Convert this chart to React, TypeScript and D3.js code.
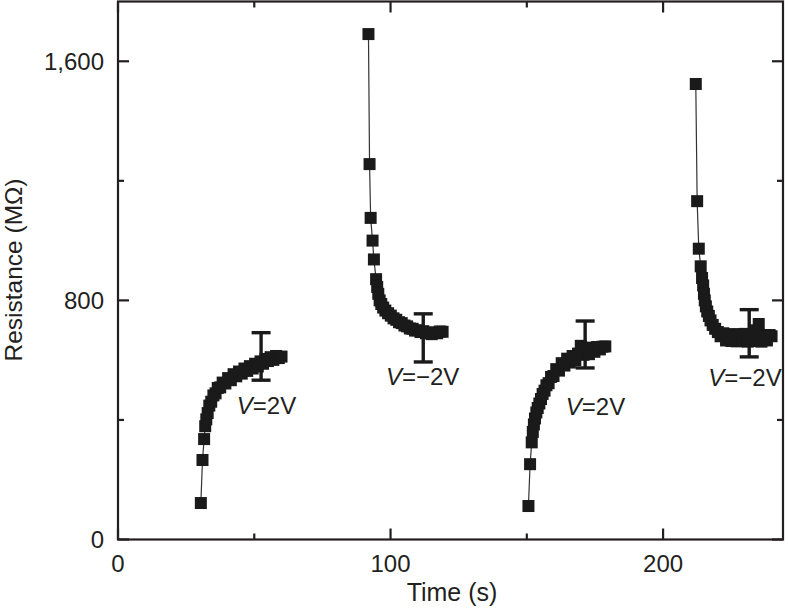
import React from "react";
import * as d3 from "d3";

// ---- data ----
const time1 = [30.4, 31.0, 31.6, 32.0, 32.4, 32.9, 33.5, 34.2, 35.0, 35.8, 36.6, 37.5, 38.4, 39.4, 40.4, 41.4, 42.4, 43.4, 44.4, 45.4, 46.4, 47.4, 48.4, 49.4, 50.3, 51.3, 52.3, 53.2, 54.1, 55.0, 56.0, 57.0, 58.0, 59.0, 60.0];
const res1 = [122, 266, 336, 379, 402, 423, 448, 461, 482, 489, 507, 509, 525, 522, 540, 533, 553, 546, 562, 555, 572, 564, 580, 572, 588, 579, 596, 588, 604, 597, 610, 601, 614, 607, 612];

const time2 = [91.9, 92.3, 92.7, 93.4, 93.9, 94.7, 95.1, 95.5, 96.0, 96.6, 97.3, 98.1, 99.1, 100.1, 101.1, 102.1, 103.1, 104.1, 105.1, 106.1, 107.1, 108.1, 109.0, 110.0, 111.0, 112.0, 113.0, 114.0, 115.1, 116.1, 117.1, 118.1, 119.1];
const res2 = [1691, 1256, 1076, 1000, 937, 871, 845, 822, 800, 788, 776, 766, 757, 749, 740, 735, 727, 724, 716, 713, 706, 705, 699, 700, 694, 697, 690, 693, 687, 692, 690, 696, 695];

const time3 = [150.6, 151.2, 151.8, 152.2, 152.6, 153.0, 153.5, 154.0, 154.6, 155.2, 155.8, 156.5, 157.2, 158.0, 158.9, 159.8, 160.8, 161.8, 162.8, 163.8, 164.8, 165.8, 166.8, 167.8, 168.8, 169.8, 170.8, 171.8, 172.8, 173.8, 174.8, 175.8, 176.8, 177.8, 178.8];
const res3 = [112, 252, 325, 360, 385, 405, 425, 440, 455, 470, 487, 498, 516, 523, 544, 547, 570, 565, 590, 582, 605, 592, 614, 600, 622, 648, 618, 642, 620, 640, 628, 644, 636, 645, 646];

const time4 = [212.0, 212.5, 213.1, 213.8, 214.3, 214.7, 215.0, 215.3, 215.7, 216.2, 216.8, 217.4, 218.2, 219.1, 220.1, 221.1, 222.1, 223.1, 224.1, 225.1, 226.1, 227.1, 228.1, 229.1, 230.1, 231.1, 232.1, 233.1, 234.1, 235.1, 236.1, 237.1, 238.1, 239.1, 239.8];
const res4 = [1524, 1132, 973, 914, 875, 850, 822, 800, 780, 763, 748, 733, 718, 705, 694, 680, 690, 666, 686, 664, 687, 663, 686, 664, 688, 662, 686, 664, 700, 721, 662, 684, 666, 684, 680];

const errTime = [52.5, 112, 171.4, 231.6];
const errLow = [533, 594, 574, 611];
const errHigh = [692, 755, 731, 769];

const labelTime = [43.6, 98.3, 164.3, 216.6];
const labelRes = [420, 517, 416, 513];
const labelText = ["=2V", "=\u22122V", "=2V", "=\u22122V"];

const xMajorTicks = [0, 100, 200];
const xMinorTicks = [50, 150];
const yMajorTicks = [0, 800, 1600];
const yMinorTicks = [400, 1200];

const xTitle = "Time (s)";
const yTitle = "Resistance (M\u03A9)";

// ---- layout ----
const W = 788;
const H = 611;
const left = 118;
const right = 783;
const top = 1.5;
const bottom = 539.5;
const FONT = "'Liberation Sans', Arial, Helvetica, sans-serif";
const INK = "#231f20";

export default function App() {
  const x = d3.scaleLinear().domain([0, 244]).range([left, right]);
  const y = d3.scaleLinear().domain([0, 1800]).range([bottom, top]);
  const line = d3
    .line<[number, number]>()
    .x((d) => x(d[0]))
    .y((d) => y(d[1]));

  const segments: [number, number][][] = [
    time1.map((t, i) => [t, res1[i]] as [number, number]),
    time2.map((t, i) => [t, res2[i]] as [number, number]),
    time3.map((t, i) => [t, res3[i]] as [number, number]),
    time4.map((t, i) => [t, res4[i]] as [number, number]),
  ];
  const ms = 12;
  const major = 11;
  const minor = 6;
  const fmt = d3.format(",");

  return (
    <svg
      width={W}
      height={H}
      style={{ position: "absolute", left: 0, top: 0, background: "#fff" }}
      fontFamily={FONT}
    >
      <rect x={0} y={0} width={W} height={H} fill="#fff" />
      {/* connecting lines */}
      {segments.map((s, i) => (
        <path key={"l" + i} d={line(s) || ""} fill="none" stroke="#333" strokeWidth={1.2} />
      ))}
      {/* markers */}
      {segments.map((s, i) =>
        s.map((d, j) => (
          <rect
            key={"m" + i + "-" + j}
            x={x(d[0]) - ms / 2}
            y={y(d[1]) - ms / 2}
            width={ms}
            height={ms}
            fill="#1a1a1a"
          />
        ))
      )}
      {/* error bars */}
      {errTime.map((t, i) => (
        <g key={"e" + i} stroke="#1a1a1a" strokeWidth={3.4}>
          <line x1={x(t)} x2={x(t)} y1={y(errLow[i])} y2={y(errHigh[i])} />
          <line x1={x(t) - 9.5} x2={x(t) + 9.5} y1={y(errLow[i])} y2={y(errLow[i])} />
          <line x1={x(t) - 9.5} x2={x(t) + 9.5} y1={y(errHigh[i])} y2={y(errHigh[i])} />
        </g>
      ))}
      {/* annotations */}
      {labelTime.map((t, i) => (
        <text key={"a" + i} x={x(t)} y={y(labelRes[i])} fontSize={24} fill={INK}>
          <tspan fontStyle="italic">V</tspan>
          <tspan>{labelText[i]}</tspan>
        </text>
      ))}
      {/* frame */}
      <rect
        x={left}
        y={top}
        width={right - left}
        height={bottom - top}
        fill="none"
        stroke={INK}
        strokeWidth={2.2}
      />
      {/* x ticks */}
      {xMajorTicks.map((t) => (
        <g key={"xt" + t} stroke={INK} strokeWidth={2.2}>
          <line x1={x(t)} x2={x(t)} y1={bottom} y2={bottom - major} />
          <line x1={x(t)} x2={x(t)} y1={top} y2={top + major} />
        </g>
      ))}
      {xMinorTicks.map((t) => (
        <g key={"xm" + t} stroke={INK} strokeWidth={2.2}>
          <line x1={x(t)} x2={x(t)} y1={bottom} y2={bottom - minor} />
          <line x1={x(t)} x2={x(t)} y1={top} y2={top + minor} />
        </g>
      ))}
      {/* y ticks */}
      {yMajorTicks.map((t) => (
        <g key={"yt" + t} stroke={INK} strokeWidth={2.2}>
          <line x1={left} x2={left + major} y1={y(t)} y2={y(t)} />
          <line x1={right} x2={right - major} y1={y(t)} y2={y(t)} />
        </g>
      ))}
      {yMinorTicks.map((t) => (
        <g key={"ym" + t} stroke={INK} strokeWidth={2.2}>
          <line x1={left} x2={left + minor} y1={y(t)} y2={y(t)} />
          <line x1={right} x2={right - minor} y1={y(t)} y2={y(t)} />
        </g>
      ))}
      {/* tick labels */}
      {xMajorTicks.map((t) => (
        <text key={"xl" + t} x={x(t)} y={572} fontSize={24} textAnchor="middle" fill={INK}>
          {fmt(t)}
        </text>
      ))}
      {yMajorTicks.map((t) => (
        <text key={"yl" + t} x={104} y={y(t) + 8.5} fontSize={24} textAnchor="end" fill={INK}>
          {fmt(t)}
        </text>
      ))}
      {/* axis titles */}
      <text x={452} y={601} fontSize={25} textAnchor="middle" fill={INK}>
        {xTitle}
      </text>
      <text
        transform={`translate(22, 270) rotate(-90)`}
        fontSize={24.5}
        textAnchor="middle"
        fill={INK}
      >
        {yTitle}
      </text>
    </svg>
  );
}
